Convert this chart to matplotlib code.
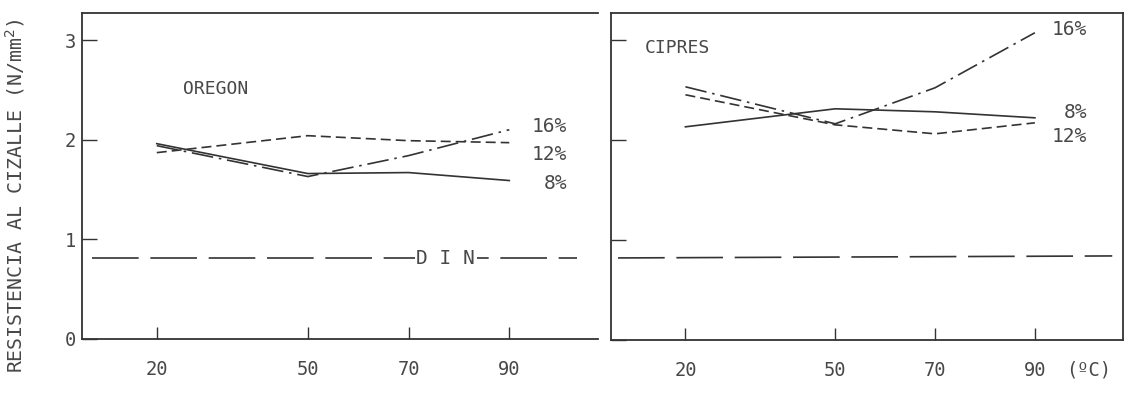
import matplotlib
matplotlib.use("Agg")
import matplotlib.pyplot as plt
import matplotlib.transforms as mtransforms

# ==========================
# Data
# ==========================
temps = [20, 50, 70, 90]
x_ticks = [20, 50, 70, 90]
y_ticks = [0, 1, 2, 3]

oregon_8 = [1.96, 1.66, 1.67, 1.59]
oregon_12 = [1.87, 2.04, 1.99, 1.97]
oregon_16 = [1.94, 1.63, 1.84, 2.10]

cipres_8 = [2.13, 2.31, 2.28, 2.22]
cipres_12 = [2.45, 2.15, 2.06, 2.17]
cipres_16 = [2.53, 2.16, 2.52, 3.07]

din_value = 0.81

# ==========================
# Style
# ==========================
plt.rcParams["font.family"] = ["DejaVu Sans Mono", "DejaVu Sans"]
ink = "#333333"
txt = "#484848"
lw = 1.2

fig = plt.figure(figsize=(11.32, 3.95), dpi=100)
ax1 = fig.add_axes([0.0722, 0.1418, 0.456, 0.825])
ax2 = fig.add_axes([0.5398, 0.1392, 0.452, 0.8286])

styles = {
    "8": dict(linestyle="-"),
    "12": dict(dashes=(6, 3)),
    "16": dict(dashes=(13, 3.5, 1.5, 3.5)),
}

for ax in (ax1, ax2):
    ax.set_xlim(5.1, 107.6)
    ax.set_ylim(0, 3.27)
    ax.set_xticks(x_ticks)
    ax.set_yticks(y_ticks)
    ax.tick_params(direction="in", length=9, width=1.0, color=ink,
                   labelsize=13.5, labelcolor=txt)
    ax.tick_params(axis="x", pad=15)
    ax.tick_params(axis="y", pad=4, length=11)
    for s in ax.spines.values():
        s.set_color(ink)
        s.set_linewidth(1.3)

ax1.spines["right"].set_visible(False)
ax2.set_yticklabels([])

# ==========================
# OREGON
# ==========================
ax1.plot(temps, oregon_8, color=ink, lw=lw, **styles["8"])
ax1.plot(temps, oregon_12, color=ink, lw=lw, **styles["12"])
ax1.plot(temps, oregon_16, color=ink, lw=lw, **styles["16"])
ax1.plot([7.1, 103.5], [din_value, din_value], color=ink, lw=lw, dashes=(28, 7))
ax1.text(77.4, din_value, "D I N", ha="center", va="center", fontsize=14,
         color=txt, bbox=dict(facecolor="white", edgecolor="none", pad=1))
ax1.text(25.2, 2.51, "OREGON", ha="left", va="center", fontsize=13, color=txt)
ax1.text(101.5, 2.13, "16%", ha="right", va="center", fontsize=14, color=txt)
ax1.text(101.5, 1.85, "12%", ha="right", va="center", fontsize=14, color=txt)
ax1.text(101.5, 1.56, "8%", ha="right", va="center", fontsize=14, color=txt)
ax1.set_ylabel("RESISTENCIA AL CIZALLE (N/mm$^2$)", fontsize=14.3, color=txt)
ax1.yaxis.set_label_coords(-0.106, 0.44)

# ==========================
# CIPRES
# ==========================
ax2.plot(temps, cipres_8, color=ink, lw=lw, **styles["8"])
ax2.plot(temps, cipres_12, color=ink, lw=lw, **styles["12"])
ax2.plot(temps, cipres_16, color=ink, lw=lw, **styles["16"])
ax2.plot([6.5, 105.5], [din_value + 0.01, din_value + 0.03], color=ink, lw=lw,
         dashes=(28, 7))
ax2.text(11.9, 2.92, "CIPRES", ha="left", va="center", fontsize=13, color=txt)
ax2.text(100.5, 3.10, "16%", ha="right", va="center", fontsize=14, color=txt)
ax2.text(100.5, 2.27, "8%", ha="right", va="center", fontsize=14, color=txt)
ax2.text(100.5, 2.03, "12%", ha="right", va="center", fontsize=14, color=txt)

trans = mtransforms.blended_transform_factory(ax2.transData, ax2.transAxes)
ax2.text(100.8, -0.093, "(ºC)", transform=trans, ha="center", va="center",
         fontsize=13.5, color=txt)

plt.savefig("out.png", dpi=100)
plt.close()
